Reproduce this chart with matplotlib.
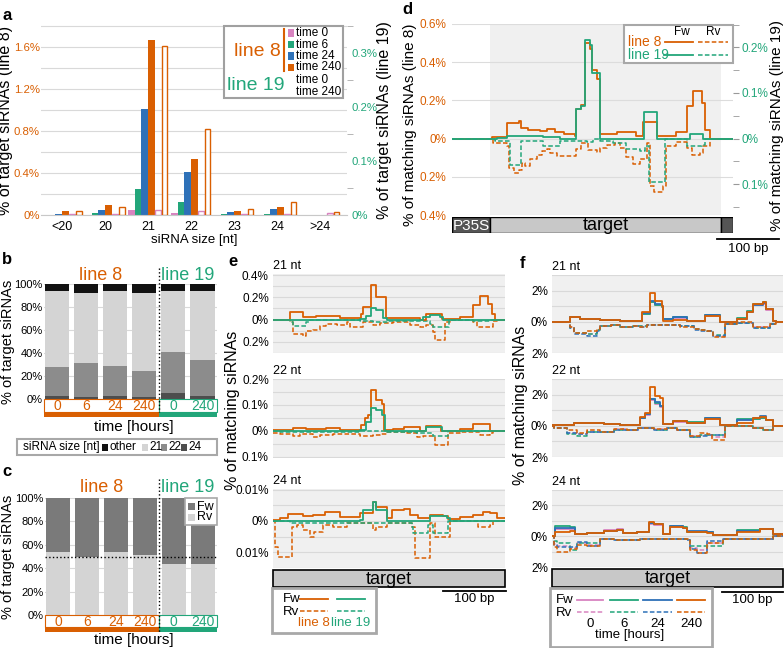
import numpy as np
import matplotlib
matplotlib.use('Agg')
import matplotlib.pyplot as plt
import matplotlib.transforms as mtransforms
from matplotlib.patches import Rectangle
from matplotlib.lines import Line2D
from matplotlib.ticker import FuncFormatter, MultipleLocator

plt.rcParams['font.family'] = ['Liberation Sans', 'DejaVu Sans']
plt.rcParams['font.size'] = 9

W, H = 784, 648
NARANJA = '#D95F02'
VERDE = '#22A67A'
AZUL = '#2E71B8'
ROSA = '#D884C0'
FONDO = '#f0f0f0'
REJILLA = '#d9d9d9'
DASH = (0, (3, 1.5))

# ---- datos panel a (% de siRNAs del target por tamaño) ----
tamanos = ['<20', '20', '21', '22', '23', '24', '>24']
a_l8_t0 = [0.002, 0.003, 0.044, 0.016, 0.001, 0.002, 0.002]
a_l8_t6 = [0.004, 0.016, 0.244, 0.124, 0.006, 0.013, 0.001]
a_l8_t24 = [0.013, 0.05, 1.01, 0.41, 0.028, 0.057, 0.001]
a_l8_t240 = [0.038, 0.1, 1.67, 0.535, 0.035, 0.08, 0.001]
a_l19_t0 = [0.001, 0.002, 0.0087, 0.0068, 0.001, 0.002, 0.0043]
a_l19_t240 = [0.0074, 0.015, 0.3135, 0.159, 0.0105, 0.024, 0.005]

# ---- datos panel b y c ----
horas = ['0', '6', '24', '240', '0', '240']
b_24 = [2.3, 1.7, 2.3, 1.7, 5.5, 2.9]
b_22 = [25.9, 29.9, 26.2, 22.3, 35.1, 30.8]
b_21 = [65.9, 61.0, 65.6, 68.6, 53.5, 60.4]
b_otro = [5.9, 7.4, 5.9, 7.4, 5.9, 5.9]
c_rv = [53.7, 50.0, 53.7, 51.0, 43.7, 43.4]
c_fw = [46.3, 50.0, 46.3, 49.0, 56.3, 56.6]

# ---- datos panel d (posición en bp, % ) ----
d_l8_fw_x = [-62, 3, 27, 46, 50, 62, 81, 92, 105, 119, 138, 140, 148, 154, 162, 165, 173, 178, 205, 236, 248, 271, 302, 319, 329, 343, 348, 356, 394]
d_l8_fw = [0, 0.009, 0.081, 0.094, 0.053, 0.046, 0.041, 0.049, 0.037, 0.023, 0.011, 0.155, 0.176, 0.50, 0.47, 0.36, 0.31, 0.023, 0.032, 0.011, 0.085, 0.011, 0.035, 0.17, 0.247, 0.187, 0.046, 0, 0]
d_l19_fw_x = [-62, 11, 27, 86, 113, 140, 148, 154, 162, 166, 178, 249, 271, 324, 346, 394]
d_l19_fw = [0, 0.002, 0.005, 0.003, 0, 0.065, 0.071, 0.217, 0.206, 0.143, 0, 0.059, 0, 0.0096, 0, 0]
d_l8_rv_x = [-62, 5, 27, 31, 38, 46, 51, 57, 65, 76, 84, 92, 97, 108, 140, 148, 159, 173, 178, 189, 202, 211, 221, 232, 243, 254, 259, 265, 281, 286, 302, 319, 327, 340, 346, 356, 394]
d_l8_rv = [0, -0.021, -0.039, -0.154, -0.18, -0.162, -0.127, -0.145, -0.109, -0.088, -0.065, -0.053, -0.078, -0.092, -0.053, -0.025, -0.06, -0.071, -0.048, -0.035, -0.025, -0.048, -0.095, -0.131, -0.109, -0.021, -0.25, -0.282, -0.25, -0.039, -0.018, -0.048, -0.088, -0.078, -0.039, 0, 0]
d_l19_rv_x = [-62, 8, 32, 50, 86, 113, 157, 167, 178, 200, 221, 243, 251, 258, 283, 319, 343, 348, 394]
d_l19_rv = [0, -0.005, -0.057, -0.005, -0.016, -0.005, -0.007, -0.0015, -0.005, -0.009, -0.022, -0.027, -0.016, -0.094, -0.0015, -0.016, -0.015, 0, 0]

# ---- datos panel e ----
e21_l8_fw_x = [0, 27, 49, 70, 92, 108, 143, 146, 159, 167, 183, 205, 238, 248, 273, 302, 324, 335, 348, 354, 359, 375]
e21_l8_fw = [0, 0.067, 0.027, 0.033, 0.03, 0.012, 0.05, 0.11, 0.315, 0.2, 0.012, 0.015, 0, 0.055, 0.006, 0.02, 0.13, 0.215, 0.14, 0.05, 0, 0]
e21_l19_fw_x = [0, 140, 151, 159, 167, 178, 184, 243, 254, 270, 275, 375]
e21_l19_fw = [0, 0.006, 0.036, 0.106, 0.088, 0.012, 0, 0.021, 0.045, 0.027, 0, 0]
e21_l8_rv_x = [0, 27, 32, 49, 54, 65, 76, 86, 103, 119, 124, 146, 162, 173, 194, 221, 238, 248, 259, 262, 278, 286, 324, 329, 356, 362, 375]
e21_l8_rv = [0, -0.024, -0.13, -0.145, -0.1, -0.09, -0.055, -0.04, -0.045, -0.024, -0.064, -0.024, -0.045, -0.033, -0.024, -0.045, -0.07, -0.045, -0.115, -0.185, -0.024, 0, -0.024, -0.07, -0.01, 0, 0]
e21_l19_rv_x = [0, 27, 32, 54, 59, 140, 162, 184, 254, 259, 284, 324, 351, 375]
e21_l19_rv = [0, -0.024, -0.055, -0.024, 0, -0.009, -0.024, -0.009, -0.04, -0.064, 0, -0.01, 0, 0]

e22_l8_fw_x = [0, 32, 54, 86, 108, 143, 148, 154, 159, 167, 176, 179, 194, 211, 237, 248, 271, 302, 324, 351, 375]
e22_l8_fw = [0.004, 0.012, 0.008, 0.01, 0.004, 0.023, 0.049, 0.062, 0.158, 0.119, 0.104, 0.004, 0.006, 0.014, 0, 0.02, 0, 0.006, 0.025, 0, 0]
e22_l19_fw_x = [0, 140, 151, 159, 167, 176, 181, 248, 273, 375]
e22_l19_fw = [0, 0.004, 0.036, 0.087, 0.081, 0.062, 0, 0.017, 0, 0]
e22_l8_rv_x = [0, 11, 32, 43, 65, 76, 97, 140, 162, 173, 184, 216, 232, 243, 262, 283, 302, 335, 351, 356, 375]
e22_l8_rv = [-0.006, -0.012, -0.019, -0.012, -0.022, -0.015, -0.012, -0.019, -0.015, -0.012, -0.003, -0.009, -0.024, -0.018, -0.054, -0.009, -0.003, -0.015, -0.009, 0, 0]
e22_l19_rv_x = [0, 11, 140, 184, 232, 259, 283, 375]
e22_l19_rv = [0, -0.003, -0.001, -0.003, -0.009, -0.019, 0, 0]

e24_l8_fw_x = [0, 11, 24, 49, 65, 84, 108, 140, 162, 167, 184, 192, 211, 221, 235, 254, 275, 283, 302, 324, 340, 351, 362, 375]
e24_l8_fw = [0.0003, 0.0009, 0.0022, 0.0016, 0.0019, 0.003, 0.0014, 0.0027, 0.0062, 0.0043, 0.0009, 0.0035, 0.0037, 0.0019, 0.0009, 0.0019, 0.0016, 0.0005, 0.0014, 0.0019, 0.003, 0.0025, 0.0009, 0.0009]
e24_l19_fw_x = [0, 140, 146, 162, 167, 184, 254, 281, 286, 375]
e24_l19_fw = [0, 0.0003, 0.0035, 0.0062, 0.0035, 0, 0.0016, 0.0009, 0, 0]
e24_l8_rv_x = [0, 3, 8, 30, 38, 49, 59, 67, 81, 97, 119, 162, 167, 184, 224, 230, 254, 262, 286, 332, 351, 356, 375]
e24_l8_rv = [0, -0.0082, -0.0114, -0.0018, -0.0013, -0.0029, -0.005, -0.0034, -0.0013, -0.0018, -0.0008, -0.0029, -0.0018, -0.0008, -0.0018, -0.0119, -0.0008, -0.005, 0, -0.0018, -0.0013, 0, 0]
e24_l19_rv_x = [0, 27, 224, 227, 251, 259, 283, 375]
e24_l19_rv = [0, -0.0005, -0.0018, -0.0039, -0.0013, -0.0039, 0, 0]

# ---- datos panel f (tiempos 0, 6, 24, 240 h) ----
f21_fw_x = [0, 30, 46, 78, 111, 135, 146, 159, 167, 178, 181, 197, 219, 248, 273, 300, 316, 327, 343, 348, 359, 364, 375]
f21_fw_0 = [0, 0.28, 0.15, 0.12, 0.06, 0.05, 0.5, 1.25, 1.05, 0.95, 0.15, 0.25, 0.06, 0.40, 0, 0.2, 0.6, 1.05, 1.15, 0.75, 0.06, 0, 0]
f21_fw_6 = [0, 0.30, 0.15, 0.12, 0.06, 0.05, 0.5, 1.3, 1.1, 0.98, 0.2, 0.32, 0.08, 0.42, 0, 0.25, 0.7, 1.15, 1.25, 0.8, 0.08, 0, 0]
f21_fw_24 = [0, 0.30, 0.17, 0.13, 0.08, 0.06, 0.55, 1.35, 1.14, 1.03, 0.17, 0.28, 0.06, 0.45, 0, 0.2, 0.65, 1.1, 1.2, 0.8, 0.06, 0, 0]
f21_fw_240 = [0, 0.32, 0.17, 0.13, 0.06, 0.04, 0.6, 1.82, 1.35, 1.03, 0.06, 0.1, 0.06, 0.39, 0, 0.17, 0.6, 1.14, 1.24, 0.82, 0.06, 0, 0]
f21_rv_x = [0, 30, 35, 57, 73, 78, 95, 111, 132, 143, 154, 186, 208, 230, 240, 251, 262, 281, 300, 327, 354, 364, 375]
f21_rv_0 = [0, -0.36, -0.7, -0.8, -0.55, -0.28, -0.2, -0.34, -0.27, -0.3, -0.2, -0.2, -0.3, -0.48, -0.55, -0.6, -0.88, -0.15, -0.05, -0.36, -0.15, 0, 0]
f21_rv_6 = [0, -0.38, -0.72, -0.75, -0.55, -0.28, -0.2, -0.34, -0.27, -0.3, -0.2, -0.2, -0.3, -0.48, -0.55, -0.6, -0.85, -0.15, -0.05, -0.38, -0.15, 0, 0]
f21_rv_24 = [0, -0.40, -0.75, -0.9, -0.6, -0.3, -0.22, -0.36, -0.28, -0.32, -0.2, -0.2, -0.3, -0.5, -0.58, -0.62, -0.9, -0.15, -0.05, -0.38, -0.15, 0, 0]
f21_rv_240 = [0, -0.36, -0.69, -0.58, -0.47, -0.26, -0.19, -0.32, -0.26, -0.32, -0.19, -0.19, -0.32, -0.47, -0.5, -0.58, -0.97, -0.15, -0.04, -0.36, -0.15, 0, 0]

f22_fw_x = [0, 35, 57, 84, 111, 143, 151, 159, 167, 176, 181, 197, 219, 248, 273, 300, 327, 338, 348, 359, 375]
f22_fw_0 = [0.05, 0.2, 0.16, 0.12, 0.06, 0.48, 0.72, 1.65, 1.4, 1.2, 0.12, 0.26, 0.2, 0.45, 0.06, 0.35, 0.45, 0.5, 0.35, 0, 0]
f22_fw_6 = [0.06, 0.2, 0.17, 0.12, 0.06, 0.5, 0.75, 1.7, 1.45, 1.25, 0.13, 0.3, 0.22, 0.5, 0.06, 0.43, 0.45, 0.5, 0.35, 0, 0]
f22_fw_24 = [0.06, 0.21, 0.17, 0.13, 0.06, 0.5, 0.75, 1.75, 1.5, 1.29, 0.13, 0.28, 0.21, 0.49, 0.06, 0.39, 0.52, 0.6, 0.39, 0, 0]
f22_fw_240 = [0.06, 0.21, 0.17, 0.13, 0.06, 0.56, 0.82, 2.49, 1.94, 1.78, 0.13, 0.28, 0.21, 0.43, 0.06, 0.17, 0.49, 0.56, 0.39, 0, 0]
f22_rv_x = [0, 3, 24, 40, 57, 78, 100, 121, 140, 165, 186, 203, 224, 240, 251, 259, 281, 327, 343, 359, 375]
f22_rv_0 = [0, -0.15, -0.45, -0.55, -0.37, -0.38, -0.22, -0.27, -0.16, -0.22, -0.16, -0.28, -0.68, -0.6, -0.58, -0.7, -0.04, -0.15, -0.25, 0, 0]
f22_rv_6 = [0, -0.15, -0.55, -0.65, -0.4, -0.4, -0.24, -0.28, -0.17, -0.24, -0.17, -0.28, -0.7, -0.6, -0.58, -0.62, -0.04, -0.15, -0.26, 0, 0]
f22_rv_24 = [0, -0.15, -0.47, -0.52, -0.37, -0.4, -0.24, -0.28, -0.17, -0.24, -0.17, -0.3, -0.73, -0.65, -0.6, -0.58, -0.04, -0.15, -0.26, 0, 0]
f22_rv_240 = [0, -0.15, -0.3, -0.47, -0.3, -0.37, -0.22, -0.26, -0.15, -0.22, -0.15, -0.26, -0.65, -0.47, -0.52, -0.9, -0.04, -0.15, -0.26, 0, 0]

f24_fw_x = [0, 5, 30, 38, 57, 84, 105, 116, 138, 157, 165, 181, 192, 213, 219, 251, 262, 300, 338, 359, 375]
f24_fw_0 = [0, 0.5, 0.5, 0.13, 0.22, 0.38, 0.47, 0.22, 0.28, 0.82, 0.75, 0.17, 0.62, 0.55, 0.3, 0.26, 0.06, 0.32, 0.45, 0.12, 0.06]
f24_fw_6 = [0, 0.64, 0.6, 0.13, 0.21, 0.34, 0.4, 0.21, 0.28, 0.85, 0.78, 0.17, 0.69, 0.6, 0.3, 0.28, 0.06, 0.39, 0.45, 0.13, 0.06]
f24_fw_24 = [0, 0.55, 0.56, 0.13, 0.21, 0.34, 0.42, 0.21, 0.28, 0.85, 0.8, 0.17, 0.64, 0.56, 0.32, 0.28, 0.06, 0.34, 0.47, 0.13, 0.06]
f24_fw_240 = [0, 0.28, 0.34, 0.13, 0.21, 0.34, 0.39, 0.21, 0.28, 0.92, 0.82, 0.17, 0.6, 0.56, 0.28, 0.21, 0.06, 0.28, 0.49, 0.13, 0.06]
f24_rv_x = [0, 3, 8, 30, 40, 57, 78, 100, 143, 165, 219, 224, 235, 251, 278, 327, 359, 375]
f24_rv_0 = [0, -0.5, -0.65, -0.75, -0.45, -0.55, -0.15, -0.25, -0.2, -0.15, -0.22, -0.75, -0.9, -0.45, -0.15, -0.2, 0, 0]
f24_rv_6 = [0, -0.3, -0.47, -0.9, -0.47, -0.47, -0.15, -0.26, -0.21, -0.15, -0.22, -0.65, -0.65, -0.65, -0.15, -0.2, 0, 0]
f24_rv_24 = [0, -0.58, -0.73, -0.7, -0.35, -0.65, -0.15, -0.26, -0.21, -0.15, -0.25, -0.8, -1.07, -0.3, -0.15, -0.2, 0, 0]
f24_rv_240 = [0, -0.69, -1.01, -0.8, -0.58, -0.65, -0.15, -0.26, -0.21, -0.15, -0.21, -0.9, -1.12, -0.47, -0.15, -0.21, 0, 0]

LARGO_TARGET = 375

fig = plt.figure(figsize=(W / 100, H / 100), dpi=100)


def caja(x0, y0, x1, y1):
    # rectángulo en pixeles (origen arriba a la izquierda) -> coordenadas de figura
    return [x0 / W, 1 - y1 / H, (x1 - x0) / W, (y1 - y0) / H]


def fx(x):
    return x / W


def fy(y):
    return 1 - y / H


def texto(x, y, s, **kw):
    fig.text(fx(x), fy(y), s, **kw)


def linea(x0, x1, y, **kw):
    fig.add_artist(Line2D([fx(x0), fx(x1)], [fy(y), fy(y)], **kw))


def cuadro(x0, y0, x1, y1, **kw):
    fig.add_artist(Rectangle((fx(x0), fy(y1)), (x1 - x0) / W, (y1 - y0) / H,
                             transform=fig.transFigure, **kw))


def fmt_abs(v, pos):
    return '%g%%' % abs(round(v, 5))


def sin_bordes(ax):
    for s in ax.spines.values():
        s.set_visible(False)


# ================= PANEL a =================
ax_a = fig.add_axes(caja(41, 25, 347, 215))
pos = np.arange(len(tamanos))
w = 0.155
ax_a.bar(pos - 2.5 * w, a_l8_t0, w, color=ROSA)
ax_a.bar(pos - 1.5 * w, a_l8_t6, w, color=VERDE)
ax_a.bar(pos - 0.5 * w, a_l8_t24, w, color=AZUL)
ax_a.bar(pos + 0.5 * w, a_l8_t240, w, color=NARANJA)
ax_a.set_xlim(-0.49, 6.63)
ax_a.set_ylim(0, 1.81)
ax_a.set_yticks([0, 0.4, 0.8, 1.2, 1.6])
ax_a.yaxis.set_minor_locator(MultipleLocator(0.2))
ax_a.yaxis.set_major_formatter(FuncFormatter(fmt_abs))
ax_a.grid(axis='y', which='both', color=REJILLA, lw=0.8)
ax_a.set_axisbelow(True)
ax_a.tick_params(axis='y', which='both', length=0, labelcolor=NARANJA, labelsize=8.2, pad=1)
ax_a.set_xticks(pos, tamanos)
ax_a.tick_params(axis='x', length=0, labelsize=9, pad=4)
sin_bordes(ax_a)
ax_a.spines['bottom'].set_visible(True)
ax_a.spines['bottom'].set_color('#c8c8c8')
ax_a.set_xlabel('siRNA size [nt]', fontsize=9.5, labelpad=1)
ax_a.set_ylabel('% of target siRNAs (line 8)', fontsize=11.5)
ax_a.yaxis.set_label_coords(-0.09, 0.5)

ax_a2 = ax_a.twinx()
ax_a2.bar(pos + 1.5 * w, a_l19_t0, w * 0.85, facecolor='white', edgecolor=ROSA, lw=1)
ax_a2.bar(pos + 2.5 * w, a_l19_t240, w * 0.85, facecolor='white', edgecolor=NARANJA, lw=1)
ax_a2.set_ylim(0, 0.352)
ax_a2.set_yticks([0, 0.1, 0.2, 0.3])
ax_a2.yaxis.set_minor_locator(MultipleLocator(0.05))
ax_a2.yaxis.set_major_formatter(FuncFormatter(fmt_abs))
ax_a2.tick_params(axis='y', which='major', length=0, labelcolor=VERDE, labelsize=8.2)
ax_a2.tick_params(axis='y', which='minor', length=4, color='#aaaaaa')
sin_bordes(ax_a2)
ax_a2.set_ylabel('% of target siRNAs (line 19)', fontsize=11.5)
ax_a2.yaxis.set_label_coords(1.098, 0.5)

# leyenda del panel a
cuadro(224, 26, 343, 98, facecolor='white', edgecolor='#a0a0a0', lw=1.5)
texto(257, 52, 'line 8', color=NARANJA, fontsize=14, ha='center', va='center')
texto(256, 86, 'line 19', color=VERDE, fontsize=14, ha='center', va='center')
fig.add_artist(Line2D([fx(284), fx(284)], [fy(29), fy(71)], color=NARANJA, lw=1.5))
for k, (col, lab) in enumerate([(ROSA, 'time 0'), (VERDE, 'time 6'),
                                (AZUL, 'time 24'), (NARANJA, 'time 240')]):
    yk = 33 + k * 11.5
    cuadro(288, yk - 3.5, 294, yk + 3.5, facecolor=col, edgecolor='none')
    texto(296, yk, lab, fontsize=8.5, va='center')
texto(296, 80, 'time 0', fontsize=8.5, va='center')
texto(296, 92, 'time 240', fontsize=8.5, va='center')

texto(7, 15, 'a', fontsize=12, fontweight='bold', ha='center', va='center')


# ================= PANELES b y c =================
def eje_tiempo(ax, y_arriba, y_barra, y_abajo, y_titulo):
    mezcla = mtransforms.blended_transform_factory(ax.transData, fig.transFigure)
    for i, t in enumerate(horas):
        ax.text(i, fy((y_arriba + y_barra) / 2 + 0.5), t, transform=mezcla, ha='center',
                va='center', fontsize=10, color=NARANJA if i < 4 else VERDE)
    for xa, xb, col in [(-0.45, 3.5, NARANJA), (3.5, 5.5, VERDE)]:
        ax.add_patch(Rectangle((xa, fy(y_barra)), xb - xa, fy(y_arriba) - fy(y_barra),
                               transform=mezcla, fill=False, edgecolor=col, lw=0.8,
                               clip_on=False))
        ax.add_patch(Rectangle((xa, fy(y_abajo)), xb - xa, fy(y_barra) - fy(y_abajo),
                               transform=mezcla, facecolor=col, edgecolor='none',
                               clip_on=False))
    texto(134, y_titulo, 'time [hours]', fontsize=11, ha='center', va='center')
    return mezcla


def estilo_pct(ax, xlab):
    ax.set_xlim(-0.45, 5.5)
    ax.set_ylim(0, 100)
    ax.set_yticks(np.arange(0, 101, 20))
    ax.yaxis.set_major_formatter(FuncFormatter(lambda v, p: '%d%%' % v))
    ax.grid(axis='y', color=REJILLA, lw=0.8)
    ax.set_axisbelow(True)
    ax.tick_params(axis='y', length=0, labelsize=8, pad=1)
    ax.set_xticks([])
    sin_bordes(ax)
    ax.set_ylabel('% of target siRNAs', fontsize=10.5)
    ax.yaxis.set_label_coords(xlab, 0.5)


pos6 = np.arange(len(horas))
ax_b = fig.add_axes(caja(44, 284, 217, 399))
base = np.zeros(6)
for valores, col in [(b_24, '#4d4d4d'), (b_22, '#8c8c8c'), (b_21, '#d4d4d4'), (b_otro, '#111111')]:
    ax_b.bar(pos6, valores, 0.83, bottom=base, color=col)
    base = base + np.array(valores)
estilo_pct(ax_b, -0.168)
mez_b = eje_tiempo(ax_b, 399, 412, 417, 427)
ax_b.text(1.5, fy(275), 'line 8', transform=mez_b, color=NARANJA, fontsize=13, ha='center', va='center')
ax_b.text(4.5, fy(275), 'line 19', transform=mez_b, color=VERDE, fontsize=13, ha='center', va='center')
ax_b.plot([3.5, 3.5], [fy(268), fy(412)], transform=mez_b, color='k', ls=':', lw=1, clip_on=False)
texto(7, 260, 'b', fontsize=12, fontweight='bold', ha='center', va='center')

# leyenda del panel b
cuadro(17, 439, 217, 455, facecolor='white', edgecolor='#a8a8a8', lw=1.5)
texto(23, 447, 'siRNA size [nt]', fontsize=8.5, va='center')
for xs, col, lab in [(102, '#111111', 'other'), (142, '#d4d4d4', '21'),
                     (161, '#8c8c8c', '22'), (181, '#4d4d4d', '24')]:
    cuadro(xs, 443.5, xs + 6, 450.5, facecolor=col, edgecolor='none')
    texto(xs + 7, 447, lab, fontsize=8.5, va='center')

ax_c = fig.add_axes(caja(45, 498, 217, 615))
ax_c.bar(pos6, c_rv, 0.83, color='#d4d4d4')
ax_c.bar(pos6, c_fw, 0.83, bottom=c_rv, color='#7a7a7a')
ax_c.axhline(50, color='k', ls=':', lw=1)
estilo_pct(ax_c, -0.174)
mez_c = eje_tiempo(ax_c, 615, 627, 632, 640)
ax_c.text(1.5, fy(488), 'line 8', transform=mez_c, color=NARANJA, fontsize=13, ha='center', va='center')
ax_c.text(4.5, fy(488), 'line 19', transform=mez_c, color=VERDE, fontsize=13, ha='center', va='center')
ax_c.plot([3.5, 3.5], [fy(479), fy(632)], transform=mez_c, color='k', ls=':', lw=1, clip_on=False)
texto(7, 472, 'c', fontsize=12, fontweight='bold', ha='center', va='center')
cuadro(185, 498, 217, 525, facecolor='white', edgecolor='#a8a8a8', lw=1.2)
cuadro(188, 503, 195, 510, facecolor='#7a7a7a', edgecolor='none')
cuadro(188, 514, 195, 521, facecolor='#d4d4d4', edgecolor='none')
texto(197, 506.5, 'Fw', fontsize=9, va='center')
texto(197, 517.5, 'Rv', fontsize=9, va='center')


# ================= PANEL d =================
ax_d = fig.add_axes(caja(452, 24, 733, 215))
ax_d.axvspan(0, LARGO_TARGET, color=FONDO, lw=0, zorder=0)
ax_d.plot(d_l8_fw_x, d_l8_fw, drawstyle='steps-post', color=NARANJA, lw=1.3)
ax_d.plot(d_l8_rv_x, d_l8_rv, drawstyle='steps-post', color=NARANJA, lw=1.1, ls=DASH)
ax_d.set_xlim(-62, 394)
ax_d.set_ylim(-0.4, 0.6)
ax_d.set_yticks([-0.4, -0.2, 0, 0.2, 0.4, 0.6])
ax_d.yaxis.set_major_formatter(FuncFormatter(fmt_abs))
ax_d.grid(axis='y', color='#dcdcdc', lw=0.8)
ax_d.set_axisbelow(True)
ax_d.tick_params(axis='y', length=0, labelcolor=NARANJA, labelsize=8.5, pad=4)
ax_d.set_xticks([])
sin_bordes(ax_d)
ax_d.set_ylabel('% of matching siRNAs (line 8)', fontsize=11)
ax_d.yaxis.set_label_coords(-0.125, 0.47)

ax_d2 = ax_d.twinx()
ax_d2.plot(d_l19_fw_x, d_l19_fw, drawstyle='steps-post', color=VERDE, lw=1.3)
ax_d2.plot(d_l19_rv_x, d_l19_rv, drawstyle='steps-post', color=VERDE, lw=1.1, ls=DASH)
ax_d2.set_ylim(-0.1674, 0.2511)
ax_d2.set_yticks([-0.1, 0, 0.1, 0.2])
ax_d2.yaxis.set_minor_locator(MultipleLocator(0.05))
ax_d2.yaxis.set_major_formatter(FuncFormatter(fmt_abs))
ax_d2.tick_params(axis='y', which='both', length=4, color='#999999', labelcolor=VERDE, labelsize=8.5, pad=2)
sin_bordes(ax_d2)
ax_d2.set_ylabel('% of matching siRNAs (line 19)', fontsize=11)
ax_d2.yaxis.set_label_coords(1.13, 0.47)

# esquema del gen en d
ax_dg = fig.add_axes(caja(452, 217, 733, 233))
ax_dg.set_xlim(-62, 394)
ax_dg.set_ylim(0, 1)
ax_dg.axis('off')
ax_dg.add_patch(Rectangle((-62, 0), 62, 1, facecolor='#555555', edgecolor='k', lw=1))
ax_dg.add_patch(Rectangle((0, 0), LARGO_TARGET, 1, facecolor='#c8c8c8', edgecolor='k', lw=1))
ax_dg.add_patch(Rectangle((LARGO_TARGET, 0), 394 - LARGO_TARGET, 1, facecolor='#555555', edgecolor='k', lw=1))
ax_dg.text(-31, 0.45, 'P35S', color='white', fontsize=11, ha='center', va='center')
ax_dg.text(LARGO_TARGET / 2, 0.45, 'target', fontsize=13, ha='center', va='center')
ax_dg.plot([368, 468], [-0.38, -0.38], color='k', lw=1.3, clip_on=False)
texto(748, 249, '100 bp', fontsize=9.5, ha='center', va='center')

# leyenda del panel d
cuadro(624, 25, 733, 63, facecolor='white', edgecolor='#a8a8a8', lw=1.5)
texto(682, 32, 'Fw', fontsize=8.5, ha='center', va='center')
texto(713, 32, 'Rv', fontsize=8.5, ha='center', va='center')
texto(628, 42, 'line 8', fontsize=10, color=NARANJA, va='center')
texto(628, 55, 'line 19', fontsize=10, color=VERDE, va='center')
linea(665, 693, 42, color=NARANJA, lw=1.3)
linea(698, 728, 42, color=NARANJA, lw=1.1, ls=DASH)
linea(664, 693, 55, color=VERDE, lw=1.3)
linea(698, 728, 55, color=VERDE, lw=1.1, ls=DASH)
texto(407, 10, 'd', fontsize=12, fontweight='bold', ha='center', va='center')


# ================= PANEL e =================
def estilo_perfil(ax, lims, marcas, paso, titulo):
    ax.set_facecolor(FONDO)
    ax.set_xlim(0, LARGO_TARGET)
    ax.set_ylim(*lims)
    ax.set_yticks(marcas)
    ax.yaxis.set_minor_locator(MultipleLocator(paso))
    ax.yaxis.set_major_formatter(FuncFormatter(fmt_abs))
    ax.grid(axis='y', which='both', color=REJILLA, lw=0.8)
    ax.set_axisbelow(True)
    ax.tick_params(axis='y', which='both', length=0, labelsize=8.5, pad=3)
    ax.set_xticks([])
    sin_bordes(ax)
    ax.text(0, 1.02, titulo, transform=ax.transAxes, fontsize=9, va='bottom')


def gen_target(x0, y0, x1, y1, xs0, xs1, ys):
    ax = fig.add_axes(caja(x0, y0, x1, y1))
    ax.set_xlim(0, LARGO_TARGET)
    ax.set_ylim(0, 1)
    ax.axis('off')
    ax.add_patch(Rectangle((0, 0), LARGO_TARGET, 1, facecolor='#c8c8c8', edgecolor='k', lw=1.2, clip_on=False))
    ax.text(LARGO_TARGET / 2, 0.45, 'target', fontsize=13, ha='center', va='center')
    linea(xs0, xs1, ys, color='k', lw=1.3)
    texto((xs0 + xs1) / 2, ys + 8, '100 bp', fontsize=9.5, ha='center', va='center')


paneles_e = [
    ((273, 274, 505, 353), (-0.3, 0.41), [-0.2, 0, 0.2, 0.4], 0.1, '21 nt',
     e21_l8_fw_x, e21_l8_fw, e21_l8_rv_x, e21_l8_rv, e21_l19_fw_x, e21_l19_fw, e21_l19_rv_x, e21_l19_rv),
    ((273, 379, 505, 458), (-0.104, 0.2), [-0.1, 0, 0.1, 0.2], 0.05, '22 nt',
     e22_l8_fw_x, e22_l8_fw, e22_l8_rv_x, e22_l8_rv, e22_l19_fw_x, e22_l19_fw, e22_l19_rv_x, e22_l19_rv),
    ((273, 489, 505, 568), (-0.015, 0.0102), [-0.01, 0, 0.01], 0.005, '24 nt',
     e24_l8_fw_x, e24_l8_fw, e24_l8_rv_x, e24_l8_rv, e24_l19_fw_x, e24_l19_fw, e24_l19_rv_x, e24_l19_rv),
]
for (bx, lims, marcas, paso, titulo, x8f, v8f, x8r, v8r, x19f, v19f, x19r, v19r) in paneles_e:
    ax = fig.add_axes(caja(*bx))
    ax.plot(x8r, v8r, drawstyle='steps-post', color=NARANJA, lw=1.1, ls=DASH)
    ax.plot(x19r, v19r, drawstyle='steps-post', color=VERDE, lw=1.1, ls=DASH)
    ax.plot(x8f, v8f, drawstyle='steps-post', color=NARANJA, lw=1.3)
    ax.plot(x19f, v19f, drawstyle='steps-post', color=VERDE, lw=1.3)
    estilo_perfil(ax, lims, marcas, paso, titulo)

gen_target(273, 570, 505, 587, 443, 506, 591)
texto(233, 410, '% of matching siRNAs', fontsize=11.5, rotation=90, ha='center', va='center')
texto(233, 262, 'e', fontsize=12, fontweight='bold', ha='center', va='center')

# leyenda del panel e
cuadro(272, 588, 376, 633, facecolor='white', edgecolor='#a8a8a8', lw=2)
texto(283, 599, 'Fw', fontsize=9.5, va='center')
texto(283, 612, 'Rv', fontsize=9.5, va='center')
linea(300, 328, 599, color=NARANJA, lw=1.3)
linea(337, 365, 599, color=VERDE, lw=1.3)
linea(300, 328, 611, color=NARANJA, lw=1.1, ls=DASH)
linea(337, 365, 611, color=VERDE, lw=1.1, ls=DASH)
texto(314, 623, 'line 8', fontsize=9.5, color=NARANJA, ha='center', va='center')
texto(351, 623, 'line 19', fontsize=9.5, color=VERDE, ha='center', va='center')


# ================= PANEL f =================
colores_t = [ROSA, VERDE, AZUL, NARANJA]
paneles_f = [
    ((552, 275, 783, 353), '21 nt', f21_fw_x, [f21_fw_0, f21_fw_6, f21_fw_24, f21_fw_240],
     f21_rv_x, [f21_rv_0, f21_rv_6, f21_rv_24, f21_rv_240]),
    ((552, 379, 783, 457), '22 nt', f22_fw_x, [f22_fw_0, f22_fw_6, f22_fw_24, f22_fw_240],
     f22_rv_x, [f22_rv_0, f22_rv_6, f22_rv_24, f22_rv_240]),
    ((552, 490, 783, 567), '24 nt', f24_fw_x, [f24_fw_0, f24_fw_6, f24_fw_24, f24_fw_240],
     f24_rv_x, [f24_rv_0, f24_rv_6, f24_rv_24, f24_rv_240]),
]
for (bx, titulo, xf, series_f, xr, series_r) in paneles_f:
    ax = fig.add_axes(caja(*bx))
    for vals, col in zip(series_r, colores_t):
        ax.plot(xr, vals, drawstyle='steps-post', color=col, lw=1.1, ls=DASH)
    for vals, col in zip(series_f, colores_t):
        ax.plot(xf, vals, drawstyle='steps-post', color=col, lw=1.3)
    estilo_perfil(ax, (-2, 3), [-2, 0, 2], 1, titulo)

gen_target(552, 569, 783, 587, 722, 783, 592)
texto(521, 405, '% of matching siRNAs', fontsize=11.5, rotation=90, ha='center', va='center')
texto(522, 263, 'f', fontsize=12, fontweight='bold', ha='center', va='center')

# leyenda del panel f
cuadro(550, 588, 712, 647, facecolor='white', edgecolor='#a8a8a8', lw=2)
texto(556, 600, 'Fw', fontsize=9.5, va='center')
texto(556, 613, 'Rv', fontsize=9.5, va='center')
for (xa, xb), col, lab in zip([(577, 603), (610, 638), (643, 672), (677, 705)], colores_t, ['0', '6', '24', '240']):
    linea(xa, xb, 600, color=col, lw=1.3)
    linea(xa, xb, 612, color=col, lw=1.1, ls=DASH)
    texto((xa + xb) / 2, 624, lab, fontsize=9.5, ha='center', va='center')
texto(630, 635, 'time [hours]', fontsize=9.5, ha='center', va='center')

fig.savefig('out.png', dpi=100)
